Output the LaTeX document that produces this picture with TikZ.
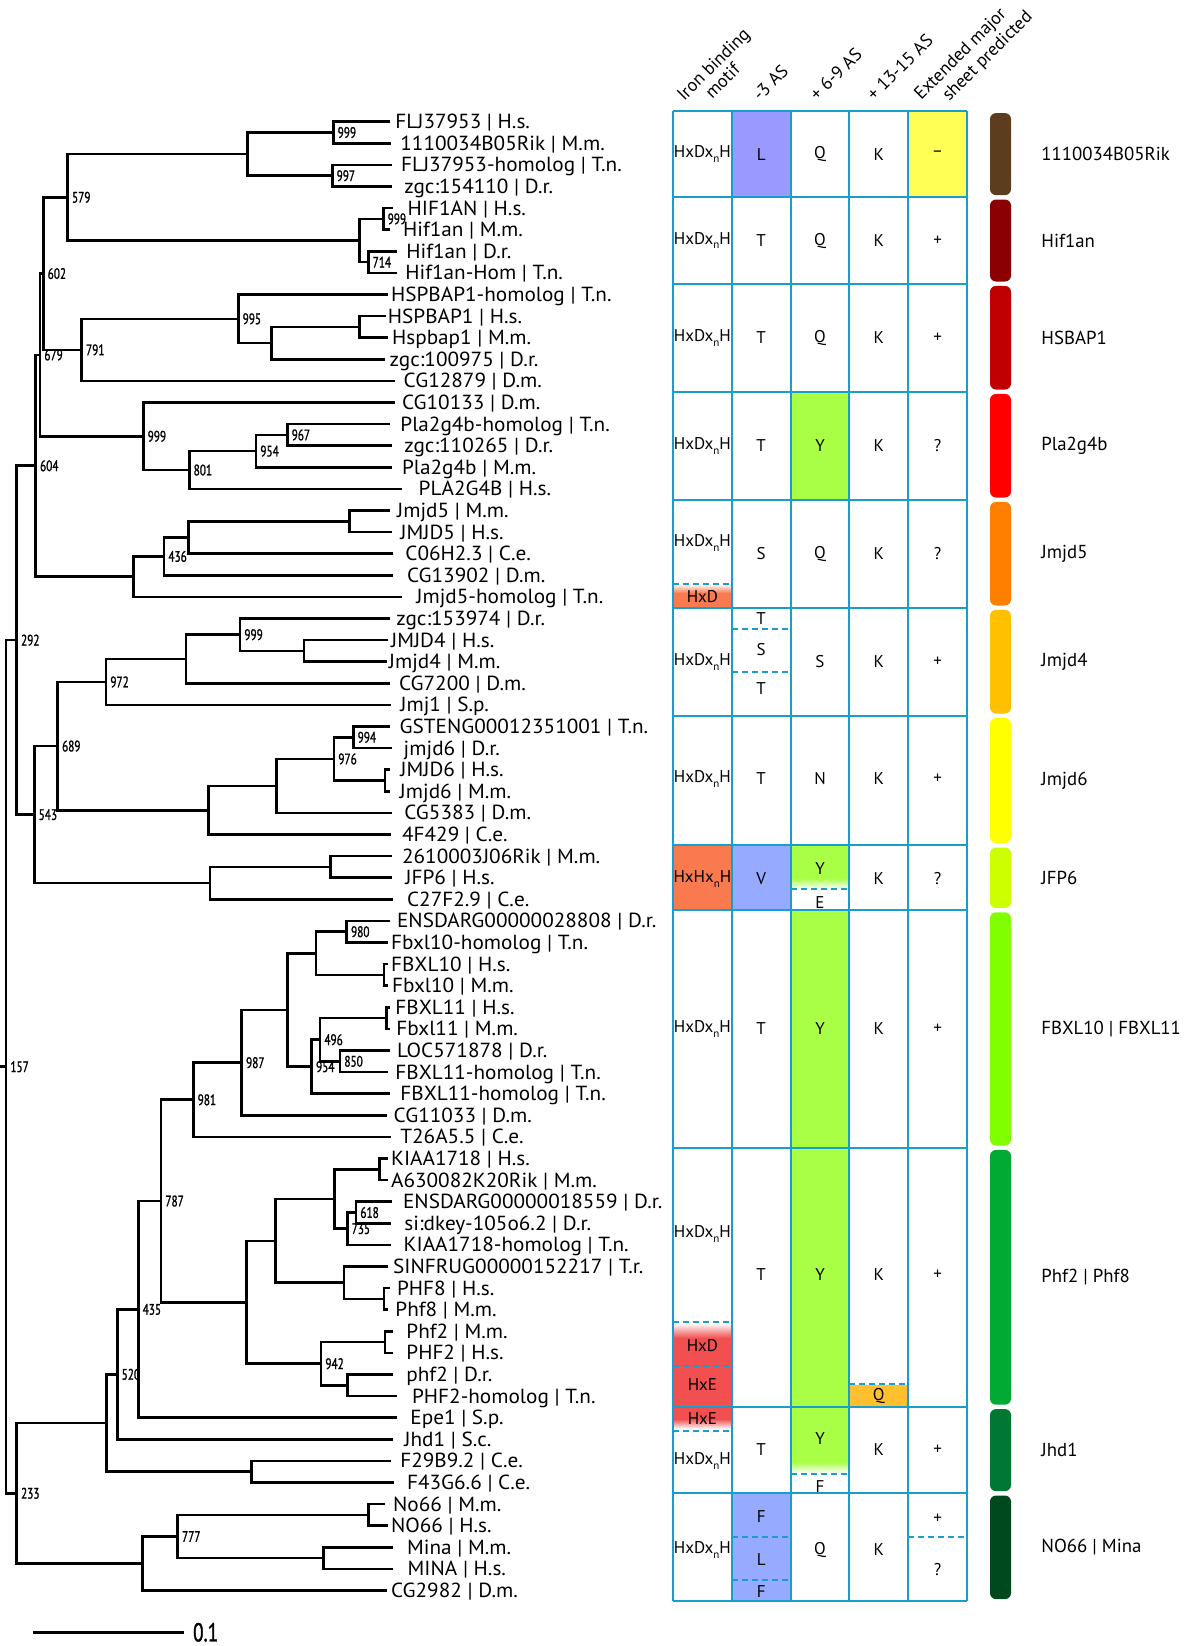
\documentclass[tikz,border=0pt]{standalone}
\usepackage{fontspec}
\setmainfont{PT Sans}
\newfontfamily\bsfont[FakeStretch=0.74,FakeBold=1.2]{PT Sans}
\newfontfamily\leaffont[FakeStretch=1.04]{PT Sans}
\usetikzlibrary{calc}
\definecolor{gridc}{RGB}{24,158,204}
\definecolor{violetf}{RGB}{153,153,255}
\definecolor{bluef}{RGB}{150,170,255}
\definecolor{yellowf}{RGB}{255,255,85}
\definecolor{greenf}{RGB}{168,255,70}
\definecolor{coralf}{RGB}{250,122,80}
\definecolor{redf}{RGB}{242,80,80}
\definecolor{qf}{RGB}{255,192,48}
\definecolor{barA}{RGB}{92,62,30}
\definecolor{barB}{RGB}{139,0,0}
\definecolor{barC}{RGB}{192,0,0}
\definecolor{barD}{RGB}{255,0,0}
\definecolor{barE}{RGB}{255,128,0}
\definecolor{barF}{RGB}{255,192,0}
\definecolor{barG}{RGB}{255,255,0}
\definecolor{barH}{RGB}{204,255,0}
\definecolor{barI}{RGB}{128,255,0}
\definecolor{barJ}{RGB}{0,170,51}
\definecolor{barK}{RGB}{0,119,51}
\definecolor{barL}{RGB}{0,72,30}
\tikzset{
  branch/.style={line width=1.3pt},
  bs/.style={anchor=west,inner sep=0pt,xshift=2pt,font=\bsfont\fontsize{7.6}{8}\selectfont},
  leaf/.style={anchor=west,inner sep=0pt,font=\leaffont\fontsize{10.2}{12}\selectfont,text height=1.4ex,text depth=0pt},
  cell/.style={inner sep=0pt,font=\fontsize{8.5}{10}\selectfont},
  hdr/.style={inner sep=0pt,rotate=45,anchor=base west,font=\fontsize{9}{10}\selectfont},
  grp/.style={anchor=west,inner sep=0pt,font=\fontsize{9.4}{11}\selectfont},
  gridline/.style={draw=gridc,line width=1pt},
  dashline/.style={draw=gridc,line width=1pt,dash pattern=on 3pt off 2pt},
}
\newcommand\treejoin[5]{%
  \path let \p1=(#3), \p2=(#4) in ({#2*0.5pt},{0.5*\y1+0.5*\y2}) coordinate (#1);
  \draw[branch] (#3) -| (#1) |- (#4);
  \node[bs] (bs#1) at (#1) {#5};
}
\newcommand\subn{\raisebox{-0.55ex}{\fontsize{5.5}{6}\selectfont n}}
\newcommand\HDH{HxDx\subn H}
\begin{document}
\begin{tikzpicture}[x=0.5pt,y=-0.5pt]
\useasboundingbox (0,0) rectangle (1200,1646);
% ---------------- leaves
\foreach \i/\ex/\tx/\lab in {
1/390/395/{FLJ37953 | H.s.},
2/390.7/400/{1110034B05Rik | M.m.},
3/391.7/400.7/{FLJ37953-homolog | T.n.},
4/391.7/404/{zgc:154110 | D.r.},
5/393/407.3/{HIF1AN | H.s.},
6/390/402.7/{Hif1an | M.m.},
7/396.7/406/{Hif1an | D.r.},
8/396.7/405/{Hif1an-Hom | T.n.},
9/388.3/390.7/{HSPBAP1-homolog | T.n.},
10/386/387.5/{HSPBAP1 | H.s.},
11/388.3/391.7/{Hspbap1 | M.m.},
12/385/389.3/{zgc:100975 | D.r.},
13/395/403.3/{CG12879 | D.m.},
14/395/401.7/{CG10133 | D.m.},
15/390/400/{Pla2g4b-homolog | T.n.},
16/391.7/404/{zgc:110265 | D.r.},
17/391.7/401.7/{Pla2g4b | M.m.},
18/401.7/418.3/{PLA2G4B | H.s.},
19/390/396.7/{Jmjd5 | M.m.},
20/391.7/400/{JMJD5 | H.s.},
21/393.3/405/{C06H2.3 | C.e.},
22/393.3/406.7/{CG13902 | D.m.},
23/401.7/416/{Jmjd5-homolog | T.n.},
24/390/396/{zgc:153974 | D.r.},
25/388.3/390.7/{JMJD4 | H.s.},
26/387.3/388.5/{Jmjd4 | M.m.},
27/390/398.7/{CG7200 | D.m.},
28/390.7/400/{Jmj1 | S.p.},
29/390/399.3/{GSTENG00012351001 | T.n.},
30/391.7/403.3/{jmjd6 | D.r.},
31/390/400/{JMJD6 | H.s.},
32/390/399.3/{Jmjd6 | M.m.},
33/391.7/404/{CG5383 | D.m.},
34/390.7/401.7/{4F429 | C.e.},
35/391.7/401.7/{2610003J06Rik | M.m.},
36/391.7/405/{JFP6 | H.s.},
37/393.3/406.7/{C27F2.9 | C.e.},
38/390/396.7/{ENSDARG00000028808 | D.r.},
39/388.3/390.7/{Fbxl10-homolog | T.n.},
40/388.3/390.7/{FBXL10 | H.s.},
41/388.3/391.7/{Fbxl10 | M.m.},
42/390/395/{FBXL11 | H.s.},
43/390/396/{Fbxl11 | M.m.},
44/390/396.7/{LOC571878 | D.r.},
45/388.3/395/{FBXL11-homolog | T.n.},
46/390/400/{FBXL11-homolog | T.n.},
47/387.3/393.3/{CG11033 | D.m.},
48/390.7/400/{T26A5.5 | C.e.},
49/388.3/390.7/{KIAA1718 | H.s.},
50/388.3/390.7/{A630082K20Rik | M.m.},
51/391.7/402.7/{ENSDARG00000018559 | D.r.},
52/390.7/404/{si:dkey-105o6.2 | D.r.},
53/390.7/403.3/{KIAA1718-homolog | T.n.},
54/388.3/392.7/{SINFRUG00000152217 | T.r.},
55/390/396.7/{PHF8 | H.s.},
56/388.3/395/{Phf8 | M.m.},
57/393.3/406/{Phf2 | M.m.},
58/393.3/406/{PHF2 | H.s.},
59/393.3/406/{phf2 | D.r.},
60/397.3/411.7/{PHF2-homolog | T.n.},
61/396.7/410/{Epe1 | S.p.},
62/393.3/404/{Jhd1 | S.c.},
63/390.7/400/{F29B9.2 | C.e.},
64/394/406.7/{F43G6.6 | C.e.},
65/385/392.7/{No66 | M.m.},
66/388.3/390.7/{NO66 | H.s.},
67/393.3/406.7/{Mina | M.m.},
68/393.3/407.3/{MINA | H.s.},
69/387.3/390.7/{CG2982 | D.m.}}{
  \coordinate (L\i) at (\ex,{121.7+21.6*(\i-1)});
  \node[leaf] (T\i) at (\tx,{121.7+21.6*(\i-1)}) {\lab};
}
% ---------------- internal nodes
\treejoin{a1}{333.3}{L1}{L2}{999}
\treejoin{a2}{332.3}{L3}{L4}{997}
\treejoin{a}{247.7}{a1}{a2}{}
\treejoin{b1}{383.3}{L5}{L6}{999}
\treejoin{b2}{368.3}{L7}{L8}{714}
\treejoin{b}{359.3}{b1}{b2}{}
\treejoin{n579}{67.7}{a}{b}{579}
\treejoin{c1}{359.3}{L10}{L11}{}
\treejoin{c2}{271.7}{c1}{L12}{}
\treejoin{c3}{238.3}{L9}{c2}{995}
\treejoin{n791}{81.7}{c3}{L13}{791}
\treejoin{n602}{43.3}{n579}{n791}{602}
\treejoin{d1}{287.3}{L15}{L16}{967}
\treejoin{d2}{256}{d1}{L17}{954}
\treejoin{d3}{189.3}{d2}{L18}{801}
\treejoin{d4}{143.3}{L14}{d3}{999}
\treejoin{n679}{40}{n602}{d4}{679}
\treejoin{e1}{349.3}{L19}{L20}{}
\treejoin{e2}{188.3}{e1}{L21}{}
\treejoin{e3}{164}{e2}{L22}{436}
\treejoin{e4}{133.3}{e3}{L23}{}
\treejoin{n604}{35.7}{n679}{e4}{604}
\treejoin{f1}{304}{L25}{L26}{}
\treejoin{f2}{240}{L24}{f1}{999}
\treejoin{f3}{186}{f2}{L27}{}
\treejoin{f4}{106}{f3}{L28}{972}
\treejoin{g1}{353.3}{L29}{L30}{994}
\treejoin{g2}{385}{L31}{L32}{}
\treejoin{g3}{334}{g1}{g2}{976}
\treejoin{g4}{276.7}{g3}{L33}{}
\treejoin{g5}{208.3}{g4}{L34}{}
\treejoin{n689}{57.7}{f4}{g5}{689}
\treejoin{h1}{330.7}{L35}{L36}{}
\treejoin{h2}{210}{h1}{L37}{}
\treejoin{n543}{34.3}{n689}{h2}{543}
\treejoin{n292}{16.7}{n604}{n543}{292}
\treejoin{i1}{346.7}{L38}{L39}{980}
\treejoin{i2}{384}{L40}{L41}{}
\treejoin{i3}{316}{i1}{i2}{}
\treejoin{i4}{386.7}{L42}{L43}{}
\treejoin{i5}{340}{L44}{L45}{850}
\treejoin{i6}{320}{i4}{i5}{496}
\treejoin{i7}{311.7}{i6}{L46}{954}
\treejoin{i8}{287.3}{i3}{i7}{}
\treejoin{i9}{241.7}{i8}{L47}{987}
\treejoin{n981}{193.3}{i9}{L48}{981}
\treejoin{j1}{379.3}{L49}{L50}{}
\treejoin{j2}{356}{L51}{L52}{618}
\treejoin{j3}{347.3}{j2}{L53}{735}
\treejoin{j4}{334.3}{j1}{j3}{}
\treejoin{j5}{384}{L55}{L56}{}
\treejoin{j6}{344}{L54}{j5}{}
\treejoin{j7}{275.3}{j4}{j6}{}
\treejoin{j8}{385}{L57}{L58}{}
\treejoin{j9}{347.7}{L59}{L60}{}
\treejoin{j10}{321}{j8}{j9}{942}
\treejoin{j11}{246.7}{j7}{j10}{}
\treejoin{n787}{161}{n981}{j11}{787}
\treejoin{n435}{138.3}{n787}{L61}{435}
\treejoin{n520}{117.3}{n435}{L62}{520}
\treejoin{k1}{251.7}{L63}{L64}{}
\treejoin{k2}{106.7}{n520}{k1}{}
\treejoin{l1}{368.3}{L65}{L66}{}
\treejoin{l2}{323.3}{L67}{L68}{}
\treejoin{n777}{177.7}{l1}{l2}{777}
\treejoin{l3}{142.7}{n777}{L69}{}
\treejoin{n233}{16.7}{k2}{l3}{233}
\treejoin{root}{6}{n292}{n233}{157}
\draw[branch] (root) -- ++(-6,0) coordinate (rootstub);
% scale bar
\coordinate (sb1) at (33.3,1632.3);
\coordinate (sb2) at (184.3,1632.3);
\draw[branch] (sb1) -- (sb2);
\node[anchor=west,inner sep=0pt,font=\bsfont\fontsize{13}{14}\selectfont] (sbl) at (192.7,1632.3) {0.1};
% ---------------- table fills
\def\ca{673}\def\cb{731.8}\def\cc{790.6}\def\cd{849.4}\def\ce{908.2}\def\cf{967}
\fill[violetf] (\cb,110.9) rectangle (\cc,197.3);
\fill[yellowf] (\ce,110.9) rectangle (\cf,197.3);
\fill[greenf] (\cc,391.7) rectangle (\cd,499.7);
\fill[top color=white,bottom color=coralf] (\ca,584) rectangle (\cb,593);
\fill[coralf] (\ca,593) rectangle (\cb,607.7);
\fill[coralf] (\ca,845.3) rectangle (\cb,910.1);
\fill[bluef] (\cb,845.3) rectangle (\cc,910.1);
\fill[greenf] (\cc,845.3) rectangle (\cd,878);
\fill[top color=greenf,bottom color=white] (\cc,878) rectangle (\cd,889);
\fill[greenf] (\cc,910.1) rectangle (\cd,1406.9);
\fill[top color=white,bottom color=redf] (\ca,1323) rectangle (\cb,1338);
\fill[redf] (\ca,1338) rectangle (\cb,1406.9);
\fill[qf] (\cd,1385) rectangle (\ce,1406.9);
\fill[redf] (\ca,1406.9) rectangle (\cb,1419);
\fill[top color=redf,bottom color=white] (\ca,1419) rectangle (\cb,1429);
\fill[greenf] (\cc,1406.9) rectangle (\cd,1462);
\fill[top color=greenf,bottom color=white] (\cc,1462) rectangle (\cd,1473);
\fill[bluef] (\cb,1493.3) rectangle (\cc,1601.3);
% grid
\foreach \cx in {\ca,\cb,\cc,\cd,\ce,\cf} \draw[gridline] (\cx,110.9) -- (\cx,1601.3);
\foreach \ry in {110.9,197.3,283.7,391.7,499.7,607.7,715.7,845.3,910.1,1147.7,1406.9,1493.3,1601.3}
  \draw[gridline] (\ca,\ry) -- (\cf,\ry);
% dashed separators
\draw[dashline] (\ca,583.5) -- (\cb,583.5);
\draw[dashline] (\cb,629.3) -- (\cc,629.3);
\draw[dashline] (\cb,672) -- (\cc,672);
\draw[dashline] (\cc,889.3) -- (\cd,889.3);
\draw[dashline] (\ca,1322.3) -- (\cb,1322.3);
\draw[dashline] (\ca,1365.7) -- (\cb,1365.7);
\draw[dashline] (\cd,1384.3) -- (\ce,1384.3);
\draw[dashline] (\ca,1431) -- (\cb,1431);
\draw[dashline] (\cc,1474) -- (\cd,1474);
\draw[dashline] (\cb,1536.7) -- (\cc,1536.7);
\draw[dashline] (\cb,1580) -- (\cc,1580);
\draw[dashline] (\ce,1536.7) -- (\cf,1536.7);
% ---------------- table texts
\def\xa{702.4}\def\xb{761.2}\def\xc{820}\def\xd{878.8}\def\xe{937.6}
% row A
\node[cell] at (\xa,154.1) {\HDH}; \node[cell] at (\xb,154.1) {L}; \node[cell] at (\xc,154.1) {Q}; \node[cell] at (\xd,154.1) {K}; \node[cell] at (\xe,154.1) {–};
% row B
\node[cell] at (\xa,240.5) {\HDH}; \node[cell] at (\xb,240.5) {T}; \node[cell] at (\xc,240.5) {Q}; \node[cell] at (\xd,240.5) {K}; \node[cell] at (\xe,240.5) {+};
% row C
\node[cell] at (\xa,337.7) {\HDH}; \node[cell] at (\xb,337.7) {T}; \node[cell] at (\xc,337.7) {Q}; \node[cell] at (\xd,337.7) {K}; \node[cell] at (\xe,337.7) {+};
% row D
\node[cell] at (\xa,445.7) {\HDH}; \node[cell] at (\xb,445.7) {T}; \node[cell] at (\xc,445.7) {Y}; \node[cell] at (\xd,445.7) {K}; \node[cell] at (\xe,445.7) {?};
% row E
\node[cell] at (\xa,543.3) {\HDH}; \node[cell] at (\xa,596.3) {HxD}; \node[cell] at (\xb,553.7) {S}; \node[cell] at (\xc,553.7) {Q}; \node[cell] at (\xd,553.7) {K}; \node[cell] at (\xe,553.7) {?};
% row F
\node[cell] at (\xa,661.7) {\HDH}; \node[cell] at (\xb,618.3) {T}; \node[cell] at (\xb,650) {S}; \node[cell] at (\xb,688.3) {T}; \node[cell] at (\xc,661.7) {S}; \node[cell] at (\xd,661.7) {K}; \node[cell] at (\xe,661.7) {+};
% row G
\node[cell] at (\xa,779) {\HDH}; \node[cell] at (\xb,779) {T}; \node[cell] at (\xc,779) {N}; \node[cell] at (\xd,779) {K}; \node[cell] at (\xe,779) {+};
% row H
\node[cell] at (\xa,879) {HxHx\subn H}; \node[cell] at (\xb,879) {V}; \node[cell] at (\xc,868.3) {Y}; \node[cell] at (\xc,902.7) {E}; \node[cell] at (\xd,879) {K}; \node[cell] at (\xe,879) {?};
% row I
\node[cell] at (\xa,1028.9) {\HDH}; \node[cell] at (\xb,1028.9) {T}; \node[cell] at (\xc,1028.9) {Y}; \node[cell] at (\xd,1028.9) {K}; \node[cell] at (\xe,1028.9) {+};
% row J
\node[cell] at (\xa,1234) {\HDH}; \node[cell] at (\xa,1346) {HxD}; \node[cell] at (\xa,1385) {HxE}; \node[cell] at (\xb,1275) {T}; \node[cell] at (\xc,1275) {Y}; \node[cell] at (\xd,1275) {K}; \node[cell] at (\xd,1396) {Q}; \node[cell] at (\xe,1275) {+};
% row K
\node[cell] at (\xa,1418.3) {HxE}; \node[cell] at (\xa,1461) {\HDH}; \node[cell] at (\xb,1450) {T}; \node[cell] at (\xc,1438.3) {Y}; \node[cell] at (\xc,1486.7) {F}; \node[cell] at (\xd,1450) {K}; \node[cell] at (\xe,1450) {+};
% row L
\node[cell] at (\xa,1550) {\HDH}; \node[cell] at (\xb,1516.7) {F}; \node[cell] at (\xb,1559.3) {L}; \node[cell] at (\xb,1591.7) {F}; \node[cell] at (\xc,1550) {Q}; \node[cell] at (\xd,1550) {K}; \node[cell] at (\xe,1518.3) {+}; \node[cell] at (\xe,1570) {?};
% ---------------- headers
\node[hdr] (h1a) at (684,102) {Iron binding};
\node[hdr] (h1b) at (712,100) {motif};
\node[hdr] (h2) at (760,102) {-3 AS};
\node[hdr] (h3) at (817,102) {+ 6-9 AS};
\node[hdr] (h4) at (874,102) {+ 13-15 AS};
\node[hdr] (h5a) at (921,101) {Extended major};
\node[hdr] (h5b) at (949,102) {sheet predicted};
% ---------------- colour bars and group names
\foreach \ya/\yb/\col/\nm in {
110.9/197.3/barA/1110034B05Rik,
197.3/283.7/barB/Hif1an,
283.7/391.7/barC/HSBAP1,
391.7/499.7/barD/Pla2g4b,
499.7/607.7/barE/Jmjd5,
607.7/715.7/barF/Jmjd4,
715.7/845.3/barG/Jmjd6,
845.3/910.1/barH/JFP6,
910.1/1147.7/barI/{FBXL10 | FBXL11},
1147.7/1406.9/barJ/{Phf2 | Phf8},
1406.9/1493.3/barK/Jhd1,
1493.3/1601.3/barL/{NO66 | Mina}}{
  \fill[\col,rounded corners=3pt] (990,\ya+2.2) rectangle (1011,\yb-2.2);
  \node[grp] at (1041,{(\ya+\yb)/2}) {\nm};
}
\end{tikzpicture}
\end{document}
